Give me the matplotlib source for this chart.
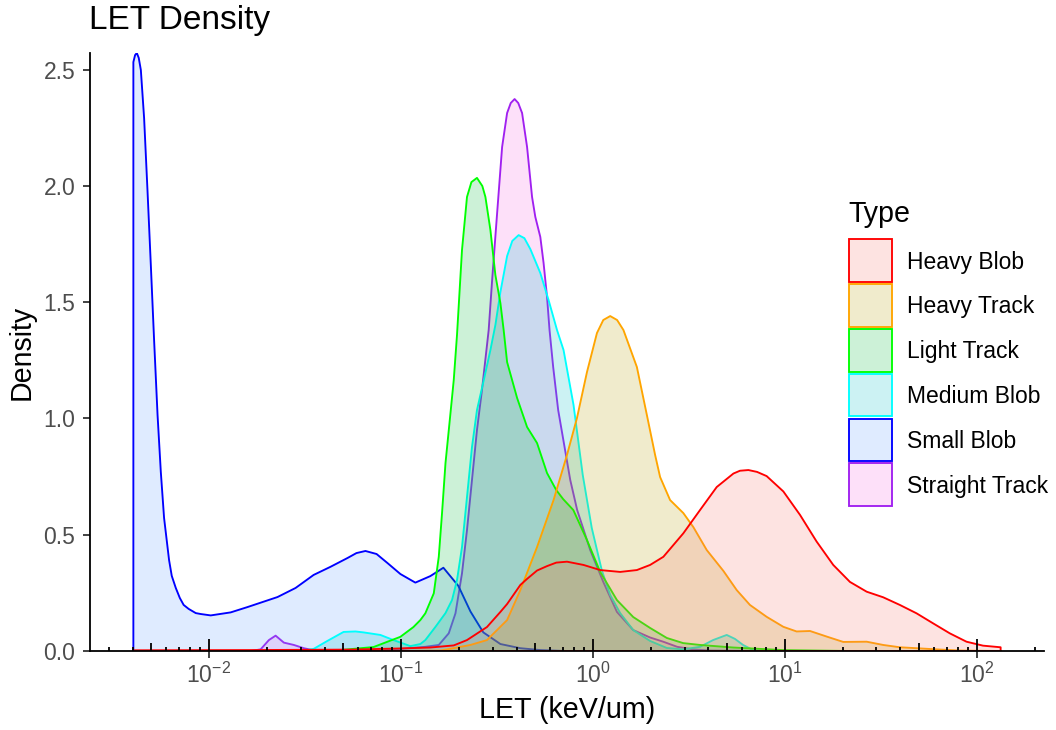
import numpy as np
import matplotlib
matplotlib.use("Agg")
import matplotlib.pyplot as plt
from matplotlib.patches import Polygon, Rectangle
from matplotlib.colors import to_rgba
from matplotlib import transforms
from matplotlib.ticker import NullLocator, FixedLocator, FixedFormatter

plt.rcParams['font.family'] = ['Liberation Sans', 'DejaVu Sans']
plt.rcParams['mathtext.fontset'] = 'custom'
plt.rcParams['mathtext.rm'] = 'Liberation Sans'
plt.rcParams['mathtext.it'] = 'Liberation Sans:italic'
plt.rcParams['mathtext.bf'] = 'Liberation Sans:bold'

# ---- data: kernel density of LET per cluster type, evaluated on log10(LET) ----
types = ["Heavy Blob", "Heavy Track", "Light Track", "Medium Blob", "Small Blob", "Straight Track"]
line_colors = ["#FF0000", "#FFA500", "#00FF00", "#00FFFF", "#0000FF", "#A020F0"]
fill_colors = ["#F8766D", "#B79F00", "#00BA38", "#00BFC4", "#619CFF", "#F564E3"]

heavy_blob_log_let = [-2.394, -1.783, -1.263, -1.003, -0.847, -0.725, -0.656, -0.552, -0.482, -0.447,
                      -0.378, -0.343, -0.291, -0.239, -0.191, -0.135, -0.049, 0.038, 0.142, 0.229,
                      0.298, 0.367, 0.471, 0.558, 0.645, 0.732, 0.766, 0.810, 0.855, 0.905,
                      0.992, 1.079, 1.165, 1.252, 1.339, 1.426, 1.512, 1.599, 1.686, 1.772,
                      1.859, 1.946, 2.032, 2.124]
heavy_blob_density = [0.003, 0.004, 0.006, 0.011, 0.015, 0.024, 0.047, 0.103, 0.168, 0.202,
                      0.284, 0.310, 0.346, 0.365, 0.380, 0.384, 0.370, 0.348, 0.340, 0.348,
                      0.370, 0.405, 0.506, 0.606, 0.705, 0.763, 0.775, 0.778, 0.770, 0.752,
                      0.686, 0.585, 0.471, 0.370, 0.297, 0.255, 0.231, 0.198, 0.162, 0.119,
                      0.076, 0.040, 0.023, 0.016]

heavy_track_log_let = [-2.394, -1.003, -0.794, -0.727, -0.638, -0.552, -0.447, -0.378, -0.291, -0.205,
                       -0.135, -0.083, -0.031, 0.021, 0.054, 0.090, 0.126, 0.159, 0.229, 0.281,
                       0.324, 0.350, 0.402, 0.471, 0.523, 0.593, 0.680, 0.749, 0.818, 0.905,
                       0.992, 1.061, 1.131, 1.218, 1.304, 1.426, 1.512, 1.599, 1.686, 1.790,
                       1.911, 2.124]
heavy_track_density = [0.0, 0.0, 0.002, 0.012, 0.026, 0.047, 0.133, 0.262, 0.447, 0.649,
                       0.843, 1.002, 1.199, 1.367, 1.423, 1.440, 1.423, 1.380, 1.221, 1.015,
                       0.843, 0.748, 0.649, 0.593, 0.533, 0.434, 0.344, 0.262, 0.198, 0.147,
                       0.104, 0.084, 0.086, 0.062, 0.039, 0.040, 0.026, 0.016, 0.012, 0.007,
                       0.002, 0.0]

light_track_log_let = [-2.394, -1.523, -1.315, -1.143, -1.003, -0.935, -0.899, -0.873, -0.829, -0.803,
                       -0.786, -0.768, -0.742, -0.725, -0.708, -0.682, -0.656, -0.633, -0.604, -0.576,
                       -0.560, -0.534, -0.508, -0.482, -0.465, -0.447, -0.395, -0.343, -0.291, -0.239,
                       -0.191, -0.155, -0.102, -0.031, 0.038, 0.125, 0.210, 0.298, 0.385, 0.470,
                       0.558, 0.730, 0.990, 1.339, 2.124]
light_track_density = [0.0, 0.0, 0.004, 0.017, 0.061, 0.103, 0.133, 0.162, 0.248, 0.405,
                       0.593, 0.808, 1.023, 1.165, 1.359, 1.724, 1.952, 2.016, 2.034, 1.999,
                       1.952, 1.810, 1.616, 1.496, 1.380, 1.242, 1.088, 0.963, 0.894, 0.765,
                       0.692, 0.653, 0.606, 0.477, 0.340, 0.219, 0.146, 0.099, 0.056, 0.034,
                       0.026, 0.015, 0.004, 0.0, 0.0]

medium_blob_log_let = [-2.394, -1.523, -1.455, -1.384, -1.299, -1.237, -1.195, -1.107, -1.039, -0.951,
                       -0.899, -0.873, -0.821, -0.768, -0.734, -0.708, -0.682, -0.656, -0.630, -0.604,
                       -0.566, -0.534, -0.508, -0.482, -0.447, -0.420, -0.387, -0.357, -0.326, -0.274,
                       -0.231, -0.187, -0.153, -0.101, -0.053, -0.006, 0.046, 0.090, 0.142, 0.210,
                       0.298, 0.385, 0.470, 0.558, 0.626, 0.697, 0.740, 0.782, 0.834, 0.897,
                       2.124]
medium_blob_density = [0.0, 0.0, 0.009, 0.043, 0.082, 0.084, 0.080, 0.069, 0.047, 0.021,
                       0.030, 0.047, 0.103, 0.163, 0.219, 0.305, 0.447, 0.662, 0.877, 1.036,
                       1.174, 1.294, 1.402, 1.543, 1.698, 1.763, 1.788, 1.775, 1.728, 1.625,
                       1.509, 1.380, 1.294, 1.058, 0.757, 0.529, 0.348, 0.241, 0.163, 0.090,
                       0.043, 0.013, 0.007, 0.018, 0.047, 0.069, 0.052, 0.026, 0.004, 0.0,
                       0.0]

small_blob_log_let = [-2.394, -2.385, -2.376, -2.366, -2.355, -2.338, -2.320, -2.303, -2.286, -2.268,
                      -2.251, -2.234, -2.208, -2.194, -2.173, -2.152, -2.132, -2.106, -2.069, -2.043,
                      -1.991, -1.887, -1.799, -1.643, -1.549, -1.455, -1.367, -1.278, -1.232, -1.185,
                      -1.127, -1.070, -1.003, -0.925, -0.847, -0.779, -0.701, -0.638, -0.571, -0.482,
                      -0.378, -0.274, -0.144, 2.124]
small_blob_density = [2.532, 2.562, 2.571, 2.550, 2.498, 2.291, 1.973, 1.659, 1.337, 1.015,
                      0.770, 0.572, 0.391, 0.323, 0.271, 0.228, 0.198, 0.181, 0.163, 0.159,
                      0.153, 0.166, 0.189, 0.232, 0.271, 0.327, 0.362, 0.400, 0.421, 0.430,
                      0.417, 0.378, 0.331, 0.294, 0.322, 0.358, 0.280, 0.170, 0.080, 0.030,
                      0.012, 0.004, 0.0, 0.0]

straight_track_log_let = [-2.394, -1.783, -1.731, -1.688, -1.653, -1.610, -1.558, -1.506, -1.455, -1.107,
                          -0.873, -0.803, -0.751, -0.716, -0.682, -0.656, -0.630, -0.604, -0.578, -0.543,
                          -0.525, -0.499, -0.473, -0.447, -0.428, -0.408, -0.389, -0.369, -0.343, -0.317,
                          -0.300, -0.274, -0.257, -0.239, -0.226, -0.207, -0.181, -0.154, -0.118, -0.082,
                          -0.014, 0.054, 0.125, 0.210, 0.298, 0.366, 0.439, 0.522, 0.610, 0.870,
                          2.124]
straight_track_density = [0.0, 0.0, 0.007, 0.047, 0.066, 0.036, 0.026, 0.012, 0.003, 0.002,
                          0.018, 0.026, 0.076, 0.162, 0.334, 0.520, 0.735, 0.950, 1.122, 1.380,
                          1.595, 1.883, 2.167, 2.313, 2.356, 2.373, 2.356, 2.313, 2.167, 1.952,
                          1.866, 1.780, 1.668, 1.522, 1.380, 1.221, 1.036, 0.907, 0.735, 0.606,
                          0.434, 0.297, 0.168, 0.090, 0.058, 0.040, 0.018, 0.007, 0.002, 0.0,
                          0.0]

series = [
    (heavy_blob_log_let, heavy_blob_density),
    (heavy_track_log_let, heavy_track_density),
    (light_track_log_let, light_track_density),
    (medium_blob_log_let, medium_blob_density),
    (small_blob_log_let, small_blob_density),
    (straight_track_log_let, straight_track_density),
]

major_ticks = [1e-2, 1e-1, 1e0, 1e1, 1e2]
major_labels = [r"$10^{-2}$", r"$10^{-1}$", r"$10^{0}$", r"$10^{1}$", r"$10^{2}$"]
y_ticks = [0.0, 0.5, 1.0, 1.5, 2.0, 2.5]

# ---- figure ----
W, H = 1056, 730
fig = plt.figure(figsize=(W / 100, H / 100), dpi=100)
fig.patch.set_facecolor("white")


def fx(px):
    return px / W


def fy(py):
    return 1 - py / H


ax = fig.add_axes([fx(90), fy(651), (1044 - 90) / W, (651 - 53) / H])

LINE_W = 1.35
# last type first, so Heavy Blob ends up on top
for (lx, dens), lc, fc in reversed(list(zip(series, line_colors, fill_colors))):
    x = 10 ** np.asarray(lx, dtype=float)
    y = np.asarray(dens, dtype=float)
    xs = np.concatenate([[x[0]], x, [x[-1]]])
    ys = np.concatenate([[0.0], y, [0.0]])
    ax.add_patch(Polygon(np.column_stack([xs, ys]), closed=True,
                         facecolor=to_rgba(fc, 0.2), edgecolor=lc,
                         linewidth=LINE_W, joinstyle="round"))

all_lx = np.concatenate([np.asarray(s[0]) for s in series])
all_y = np.concatenate([np.asarray(s[1]) for s in series])
lo, hi = all_lx.min(), all_lx.max()
pad = 0.05 * (hi - lo)
ax.set_xscale("log")
ax.set_xlim(10 ** (lo - pad), 10 ** (hi + pad))
ax.set_ylim(0, all_y.max())

for side in ("top", "right"):
    ax.spines[side].set_visible(False)
for side in ("left", "bottom"):
    ax.spines[side].set_linewidth(1.3)
    ax.spines[side].set_color("black")
    ax.spines[side].set_zorder(5)

ax.xaxis.set_major_locator(FixedLocator(major_ticks))
ax.xaxis.set_major_formatter(FixedFormatter(major_labels))
ax.xaxis.set_minor_locator(NullLocator())
ax.set_yticks(y_ticks)
ax.set_yticklabels([f"{v:.1f}" for v in y_ticks])

ax.tick_params(axis="both", which="major", direction="out", length=5,
               width=1.3, color="#333333", labelcolor="#4D4D4D", labelsize=16.5)
ax.tick_params(axis="y", pad=5.5)
ax.tick_params(axis="x", pad=3.5)

# log-scale tick annotation along the bottom, inside the panel
panel_h_px = (651 - 53)
trans = transforms.blended_transform_factory(ax.transData, ax.transAxes)
x_lo, x_hi = ax.get_xlim()
pos, lens = [], []
for d in range(int(np.floor(np.log10(x_lo))), int(np.ceil(np.log10(x_hi))) + 1):
    for k in range(1, 10):
        v = k * 10.0 ** d
        if x_lo <= v <= x_hi:
            pos.append(v)
            lens.append((12 if k == 1 else 8 if k == 5 else 4) / panel_h_px)
ax.vlines(pos, 0, lens, transform=trans, colors="black", linewidth=1.3,
          clip_on=False, zorder=6)

# titles
fig.text(fx(89), fy(28.5), "LET Density", fontsize=24, ha="left", va="baseline", color="black")
fig.text(fx(567), fy(718), "LET (keV/um)", fontsize=20.6, ha="center", va="baseline", color="black")
fig.text(fx(30), fy(352), "Density", fontsize=20.6, ha="center", va="baseline",
         rotation=90, rotation_mode="anchor", color="black")

# legend
fig.text(fx(848), fy(222), "Type", fontsize=20.6, ha="left", va="baseline", color="black")
key_top, key_size, key_step = 239, 42.7, 44.9
for i, (name, lc, fc) in enumerate(zip(types, line_colors, fill_colors)):
    top = key_top + i * key_step
    fig.add_artist(Rectangle((fx(849), fy(top + key_size)), key_size / W, key_size / H,
                             transform=fig.transFigure, facecolor=to_rgba(fc, 0.2),
                             edgecolor=lc, linewidth=LINE_W))
    fig.text(fx(907), fy(top + key_size / 2 + 8.2), name, fontsize=16.5,
             ha="left", va="baseline", color="black")

fig.savefig("out.png", dpi=100, facecolor="white")
